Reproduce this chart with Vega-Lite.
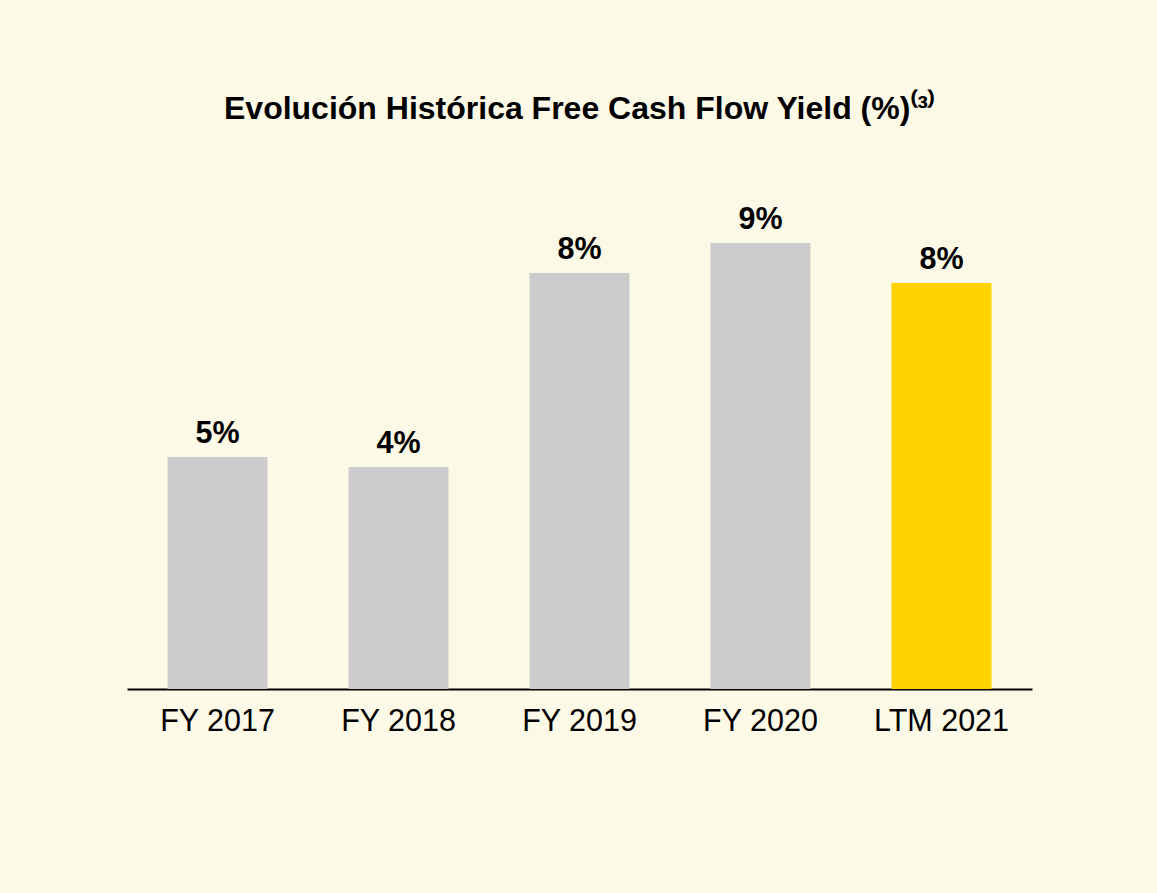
{
  "$schema": "https://vega.github.io/schema/vega-lite/v6.json",
  "autosize": {"type": "none"},
  "width": 905,
  "height": 500,
  "padding": {"left": 127, "top": 189, "right": 125, "bottom": 204},
  "background": "#FDF9E7",
  "title": {
    "text": "Evolución Histórica Free Cash Flow Yield (%)⁽³⁾",
    "font": "Liberation Sans",
    "fontSize": 32,
    "fontWeight": "bold",
    "color": "#000000",
    "anchor": "middle",
    "baseline": "alphabetic",
    "offset": 38
  },
  "config": {
    "view": {"stroke": null},
    "font": "Liberation Sans"
  },
  "data": {
    "values": [
      {"period": "FY 2017", "fcf_yield": 0.0464},
      {"period": "FY 2018", "fcf_yield": 0.0444},
      {"period": "FY 2019", "fcf_yield": 0.0832},
      {"period": "FY 2020", "fcf_yield": 0.0892},
      {"period": "LTM 2021", "fcf_yield": 0.0812}
    ]
  },
  "encoding": {
    "x": {
      "field": "period",
      "type": "nominal",
      "sort": null,
      "scale": {"paddingInner": 0.4475, "paddingOuter": 0.2238},
      "axis": {
        "title": null,
        "labelAngle": 0,
        "labelFont": "Liberation Sans",
        "labelFontSize": 30.5,
        "labelColor": "#000000",
        "labelPadding": 17,
        "ticks": false,
        "domainColor": "#000000",
        "domainWidth": 2,
        "grid": false
      }
    },
    "y": {
      "field": "fcf_yield",
      "type": "quantitative",
      "scale": {"domain": [0, 0.1], "nice": false},
      "axis": null
    }
  },
  "layer": [
    {
      "mark": {"type": "bar"},
      "encoding": {
        "color": {
          "condition": {"test": "datum.period === 'LTM 2021'", "value": "#FFD200"},
          "value": "#CCCCCC"
        }
      }
    },
    {
      "mark": {
        "type": "text",
        "align": "center",
        "baseline": "alphabetic",
        "dy": -14,
        "font": "Liberation Sans",
        "fontSize": 30.5,
        "fontWeight": "bold",
        "color": "#000000"
      },
      "encoding": {
        "text": {"field": "fcf_yield", "type": "quantitative", "format": ".0%"}
      }
    }
  ]
}
